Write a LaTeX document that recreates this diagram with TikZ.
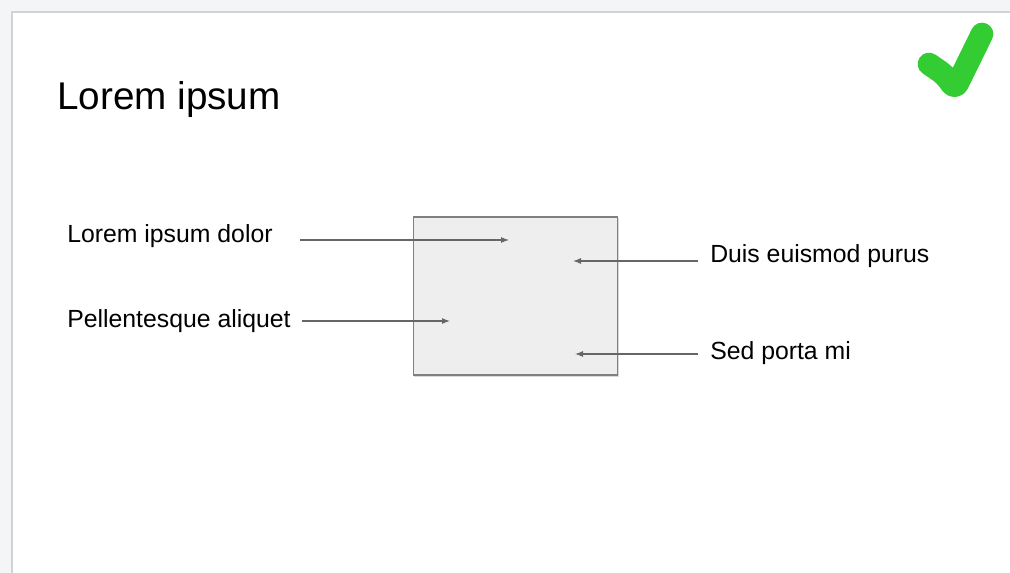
\documentclass[tikz,border=0pt]{standalone}
\usepackage{fontspec}
\setmainfont{Liberation Sans}
\usetikzlibrary{arrows.meta}

\definecolor{pagegray}{HTML}{F4F5F7}
\definecolor{edgegray}{HTML}{D2D3D5}
\definecolor{boxfill}{HTML}{EEEEEE}
\definecolor{boxline}{HTML}{808080}
\definecolor{arrowgray}{HTML}{666666}
\definecolor{checkgreen}{HTML}{33CC33}

\begin{document}
\begin{tikzpicture}[x=0.75pt,y=-0.75pt,
                    label/.style={anchor=base west,inner sep=0pt,font=\fontsize{18.6}{22}\selectfont},
                    pointer/.style={draw=arrowgray,line width=0.8pt,-{Latex[length=6pt,width=4.5pt]}}]

  \useasboundingbox (0,0) rectangle (1010,573);
  \fill[pagegray] (0,0) rectangle (1010,573);
  \fill[white] (12,12) rectangle (1010,573);
  \draw[edgegray,line width=1.5pt] (12,573) -- (12,12) -- (1010,12);

  \node[anchor=base west,inner sep=0pt,font=\fontsize{29}{34}\selectfont] (title) at (57,110) {Lorem ipsum};

  % the check mark
  \draw[checkgreen,line width=17pt,line cap=round,line join=round,rounded corners=5pt]
    (929,64) -- (945,75) -- (955,89) -- (982,34);

  % the box
  \fill[gray!30] (414,218) rectangle (619,377);
  \node[draw=boxline,fill=boxfill,line width=1.3pt,inner sep=0pt,
        minimum width=153pt,minimum height=118.5pt,anchor=north west] (box) at (412.5,216.5) {};

  \node[label] (dolor)  at (67,243) {Lorem ipsum dolor};
  \node[label] (pellen) at (67,328) {Pellentesque aliquet};
  \node[label] (duis)   at (710,263) {Duis euismod purus};
  \node[label] (sed)    at (710,360) {Sed porta mi};

  \coordinate (dolorin)  at (300,240);
  \coordinate (dolorend) at (509,240);
  \coordinate (pellenin)  at (302,321);
  \coordinate (pellenend) at (450,321);
  \coordinate (duisin)  at (698,261);
  \coordinate (duisend) at (573,261);
  \coordinate (sedin)  at (698,354);
  \coordinate (sedend) at (575,354);

  \path (dolorin)  edge[pointer] (dolorend)
        (pellenin) edge[pointer] (pellenend)
        (duisin)   edge[pointer] (duisend)
        (sedin)    edge[pointer] (sedend);
\end{tikzpicture}
\end{document}
